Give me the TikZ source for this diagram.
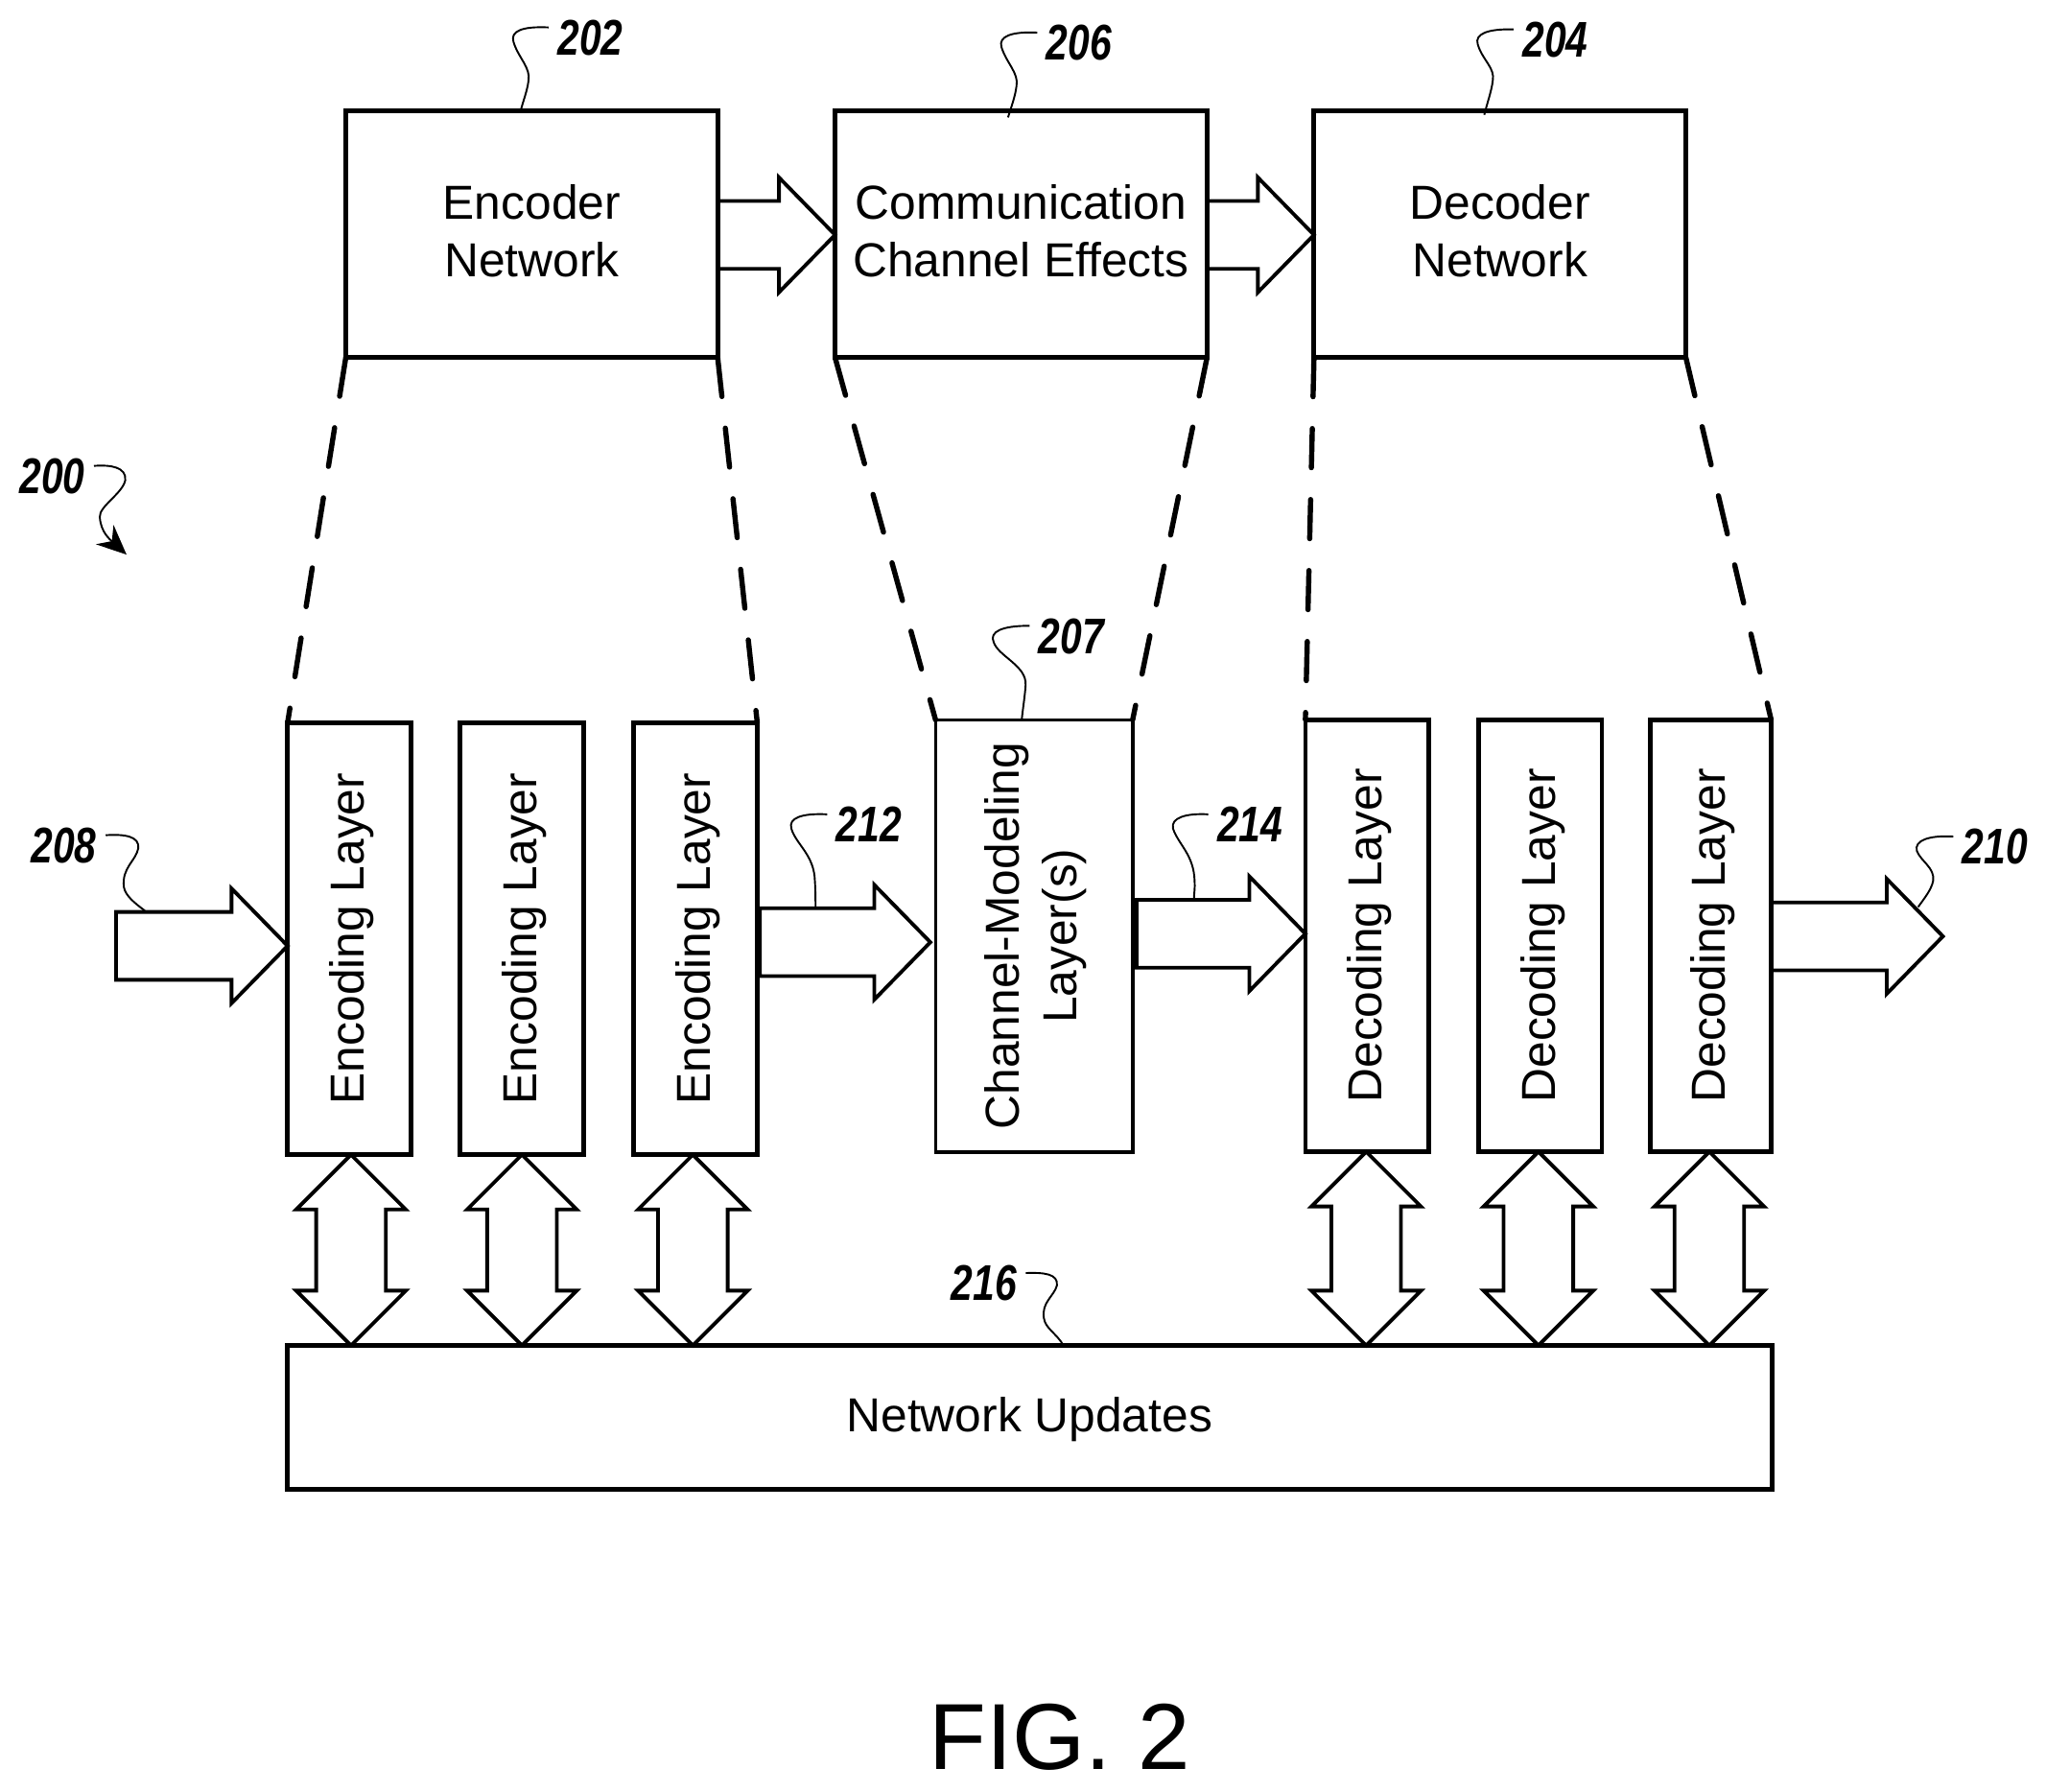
\documentclass[tikz,border=0pt]{standalone}
\usepackage{fontspec}
\setmainfont{Liberation Sans}
\newfontfamily\reffont[FakeStretch=0.78]{Liberation Sans}
\usepackage{tikz}
\usetikzlibrary{arrows.meta,calc,positioning}

\newcommand{\blockright}[3][]{
  \draw[blockline] let \p1=#2, \p2=#3 in
    (\x1,\y1+0.39cm) -- (\x2-0.645cm,\y1+0.39cm) -- (\x2-0.645cm,\y1+0.66cm) -- (\x2,\y1)
    -- (\x2-0.645cm,\y1-0.66cm) -- (\x2-0.645cm,\y1-0.39cm) -- (\x1,\y1-0.39cm) #1;
}
\newcommand{\blockboth}[2]{
  \draw[blockline] let \p1=#1, \p2=#2 in
    (\x1,\y1) -- (\x1+0.63cm,\y1-0.63cm) -- (\x1+0.4cm,\y1-0.63cm) -- (\x1+0.4cm,\y2+0.63cm)
    -- (\x1+0.63cm,\y2+0.63cm) -- (\x1,\y2) -- (\x1-0.63cm,\y2+0.63cm) -- (\x1-0.4cm,\y2+0.63cm)
    -- (\x1-0.4cm,\y1-0.63cm) -- (\x1-0.63cm,\y1-0.63cm) -- cycle;
}
\newcommand{\lowertext}[1]{\raisebox{-0.85pt}[\height][\depth]{#1}}
\newcommand{\toptext}[2]{\lowertext{\begin{tabular}{@{}c@{}}#1\\#2\end{tabular}}}
\newcommand{\layertext}[1]{\rotatebox{90}{\lowertext{#1}}}

\begin{document}
\begin{tikzpicture}
  [x=0.015cm, y=-0.015cm,
  every node/.style={inner sep=0pt, outer sep=0pt, align=center, font=\fontsize{15.6}{18.8}\selectfont},
 ]
  \tikzstyle{topbox}=[draw, line width=1.5pt, minimum width=4.275cm, minimum height=2.835cm]
  \tikzstyle{layerbox}=[draw, line width=1.5pt, minimum width=1.42cm, minimum height=4.965cm]
  \tikzstyle{refnum}=[inner sep=3pt, font=\reffont\fontsize{16.4}{18}\selectfont\bfseries\itshape]
  \tikzstyle{blockline}=[draw, line width=1.2pt, miter limit=10]
  \tikzstyle{dashline}=[draw, line width=1.7pt, line cap=round, dash pattern=on 0.45cm off 0.366cm]
  \tikzstyle{leaderline}=[draw, line width=0.6pt]
  \useasboundingbox (0,0) rectangle (1568,1372.5);

\node[topbox] (encnet) at (407.5,179.5) {\toptext{Encoder}{Network}};
\node[topbox] (commchan) at (782.5,179.5) {\toptext{Communication}{Channel Effects}};
\node[topbox] (decnet) at (1149.5,179.5) {\toptext{Decoder}{Network}};

\node[layerbox] (enc1) at (267.75,719.3) {\layertext{Encoding Layer}};
\node[layerbox] (enc2) at (400,719.3) {\layertext{Encoding Layer}};
\node[layerbox] (enc3) at (533,719.3) {\layertext{Encoding Layer}};
\node[layerbox, line width=1.1pt, minimum width=2.265cm] (chanlayer) at (792.5,717.2)
  {\layertext{\begin{tabular}{@{}c@{}}Channel-Modeling\\Layer(s)\end{tabular}}};
\node[layerbox] (dec1) at (1047.75,717) {\layertext{Decoding Layer}};
\node[layerbox] (dec2) at (1180.25,717) {\layertext{Decoding Layer}};
\node[layerbox, minimum width=1.39cm] (dec3) at (1311,717) {\layertext{Decoding Layer}};

\node[draw, line width=1.5pt, minimum width=17.07cm, minimum height=1.65cm] (updates) at (789,1086) {\lowertext{Network Updates}};
\node[font=\fontsize{30.7}{34}\selectfont] (figlabel) at (812,1331) {FIG. 2};

\node[refnum] (l202) at (452.5,29) {202};
\node[refnum] (l206) at (827,33) {206};
\node[refnum] (l204) at (1192,30.5) {204};
\node[refnum] (l200) at (40,365) {200};
\node[refnum] (l208) at (49,648) {208};
\node[refnum] (l212) at (666,632) {212};
\node[refnum] (l207) at (821,487.5) {207};
\node[refnum] (l214) at (958,632) {214};
\node[refnum] (l210) at (1529,649) {210};
\node[refnum] (l216) at (754,983.5) {216};

\blockright{(encnet.east |- 0,180)}{(commchan.west |- 0,180)}
\blockright{(commchan.east |- 0,180)}{(decnet.west |- 0,180)}
\coordinate (input) at (89,724.8);
\blockright[-- cycle]{(input)}{(enc1.west |- input)}
\blockright[-- cycle]{($(enc3.east |- 0,722)+(2,0)$)}{($(chanlayer.west |- 0,722)+(-4,0)$)}
\blockright[-- cycle]{($(chanlayer.east |- 0,715.5)+(3,0)$)}{(dec1.west |- 0,715.5)}
\coordinate (output) at (1489,717.5);
\blockright{(dec3.east |- output)}{(output)}

\blockboth{(enc1.south -| 269,0)}{(updates.north -| 269,0)}
\blockboth{(enc2.south -| 400,0)}{(updates.north -| 400,0)}
\blockboth{(enc3.south -| 531,0)}{(updates.north -| 531,0)}
\blockboth{(dec1.south -| 1047,0)}{(updates.north -| 1047,0)}
\blockboth{(dec2.south -| 1179,0)}{(updates.north -| 1179,0)}
\blockboth{(dec3.south -| 1310,0)}{(updates.north -| 1310,0)}

\draw[dashline] (encnet.south west) -- (enc1.north west);
\draw[dashline] (encnet.south east) -- (enc3.north east);
\draw[dashline] (commchan.south west) -- (chanlayer.north west);
\draw[dashline] (commchan.south east) -- (chanlayer.north east);
\draw[dashline] (decnet.south west) -- (dec1.north west);
\draw[dashline] (decnet.south east) -- (dec3.north east);

\coordinate (a208) at (111,697.8);
\coordinate (a212) at (625,695.7);
\coordinate (a214) at (915,689);
\coordinate (a210) at (1470,695);
\coordinate (a206) at (772.5,90);
\coordinate (a204) at (1137.5,88);
\coordinate (a200) at (97,425);

\draw[leaderline] ($(l202.west)+(0,-8)$) .. controls (400,20) and (391,24) .. (393.5,32)
  .. controls (397,44) and (407,52) .. (405,62) .. controls (404,70) and (401,77) .. (encnet.north -| 399,0);
\draw[leaderline] ($(l206.west)+(0,-8)$) .. controls (775,24) and (765,28) .. (767.5,36)
  .. controls (771,48) and (781,56) .. (779,66) .. controls (778,74) and (775,82) .. (a206);
\draw[leaderline] ($(l204.west)+(0,-8)$) .. controls (1140,22) and (1130,26) .. (1132.5,34)
  .. controls (1136,46) and (1146,52) .. (1144,62) .. controls (1143,70) and (1140,78) .. (a204);
\draw[leaderline] ($(l212.west)+(0,-8)$) .. controls (614,623) and (604,627) .. (606.5,635)
  .. controls (610,647) and (624,655) .. (624.5,675) .. controls (625,683) and (625,689) .. (a212);
\draw[leaderline] ($(l214.west)+(0,-8)$) .. controls (908,623) and (897,627) .. (899,635)
  .. controls (903,647) and (915,655) .. (915.5,675) .. controls (916,680) and (915,685) .. (a214);
\draw[leaderline] ($(l207.west)+(0,-8)$) .. controls (768,479.5) and (758,484) .. (761.5,492)
  .. controls (765,503) and (787,510) .. (786,525) .. controls (785.5,533) and (784,542) .. (chanlayer.north -| 783,0);
\draw[leaderline] ($(l208.east)+(0,-8)$) .. controls (96,639) and (107,641) .. (106,650)
  .. controls (104,660) and (93,665) .. (95,680) .. controls (96,686) and (103,692) .. (a208);
\draw[leaderline] ($(l210.west)+(0,-8)$) .. controls (1478,640) and (1467,644) .. (1469,652)
  .. controls (1472,660) and (1483,665) .. (1481.5,675) .. controls (1480,682) and (1475,688) .. (a210);
\draw[leaderline] ($(l216.east)+(0,-8)$) .. controls (800,975) and (811,976) .. (810,985)
  .. controls (808,993) and (798,998) .. (800,1010) .. controls (801,1018) and (810,1022) .. (updates.north -| 815,0);
\draw[leaderline, -{Stealth[length=0.34cm,width=0.3cm]}] ($(l200.east)+(0,-8)$) .. controls (85,356) and (97,358) .. (96,368)
  .. controls (94,378) and (76,388) .. (76.5,396) .. controls (77,408) and (85,414) .. (a200);
\end{tikzpicture}
\end{document}
